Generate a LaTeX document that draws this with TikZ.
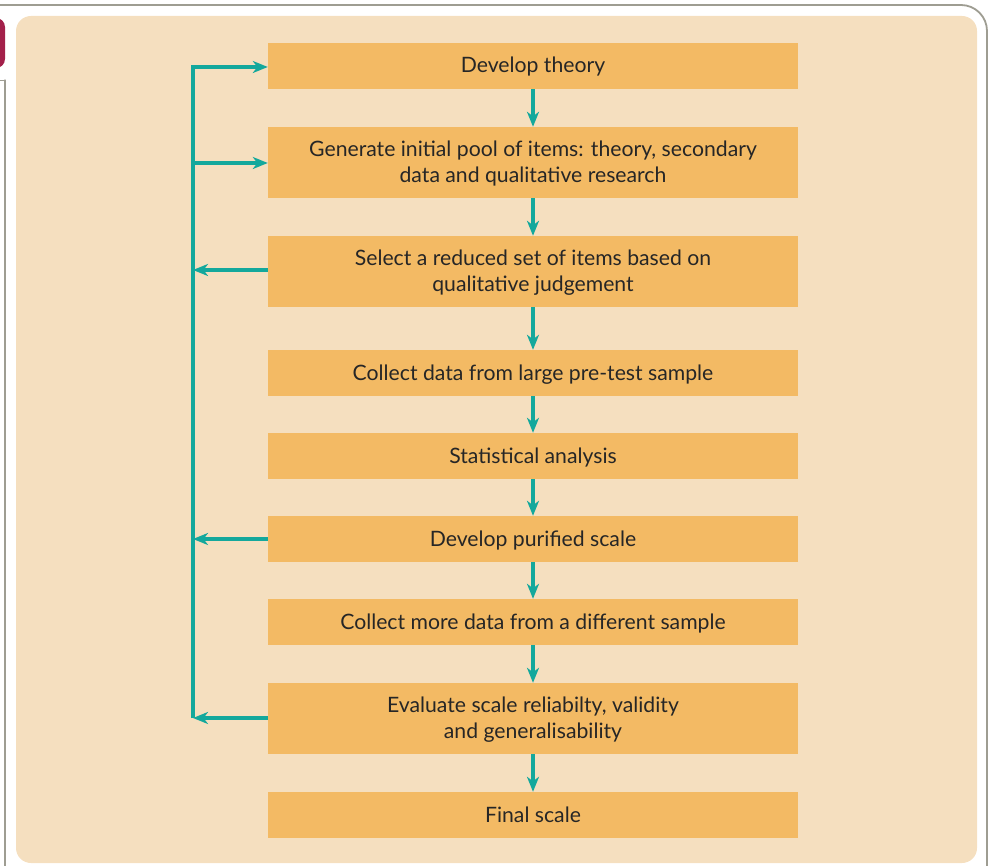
\documentclass[tikz,border=0pt]{standalone}
\usepackage{fontspec}
\setmainfont{Lato}
\usetikzlibrary{arrows.meta}
\definecolor{panel}{HTML}{F5DFBF}
\definecolor{boxfill}{HTML}{F3BA64}
\definecolor{teal}{HTML}{14A89C}
\definecolor{framegray}{HTML}{9E9D92}
\definecolor{maroon}{HTML}{A3204A}
\begin{document}
\begin{tikzpicture}[x=1pt,y=-1pt,
  stepbox/.style={fill=boxfill, draw=none, minimum width=530pt, align=center, inner sep=0pt,
    font=\fontsize{21.2}{25.5}\selectfont, text=black!85},
  one/.style={stepbox, minimum height=46pt, text height=14pt, text depth=0pt},
  two/.style={stepbox, minimum height=71pt, text height=39.5pt, text depth=0pt},
  flow/.style={draw=teal, line width=3.2pt, -{Stealth[length=15pt,width=12pt,inset=4.5pt]}},
  fb/.style={draw=teal, line width=3.2pt}
]
\useasboundingbox (0,0) rectangle (990,866);
\begin{scope}
\clip (0,0) rectangle (990,866);
% outer frame
\draw[framegray, line width=1.8pt, rounded corners=26pt] (-20,5) -- (987,5) -- (987,900);
\draw[framegray, line width=1.8pt] (0,80.5) -- (5,80.5);
\draw[framegray, line width=1.8pt, rounded corners=22pt] (5,79.6) -- (5,890) -- (60,890);
\fill[maroon, rounded corners=9pt] (-30,18) rectangle (5,68);
% panel
\fill[panel, rounded corners=15pt] (16,16) rectangle (977,863);
\end{scope}
% boxes
\node[one] (b1) at (533,66) {Develop theory};
\node[two] (b2) at (533,162.5) {Generate initial pool of items: theory, secondary\\data and qualitative research};
\node[two] (b3) at (533,271.5) {Select a reduced set of items based on\\qualitative judgement};
\node[one] (b4) at (533,373) {Collect data from large pre-test sample};
\node[one] (b5) at (533,456) {Statistical analysis};
\node[one] (b6) at (533,539) {Develop purified scale};
\node[one] (b7) at (533,622) {Collect more data from a different sample};
\node[two] (b8) at (533,718.5) {Evaluate scale reliabilty, validity\\and generalisability};
\node[one] (b9) at (533,815) {Final scale};
% downward arrows
\foreach \a/\b in {b1/b2,b2/b3,b3/b4,b4/b5,b5/b6,b6/b7,b7/b8,b8/b9}
  \draw[flow] (\a.south) -- (\b.north);
% feedback loop
\coordinate (top) at (193,67);
\coordinate (bot) at (193,718);
\draw[flow, line join=miter] (bot) -- (top) -- (b1.west |- top);
\draw[flow] (193,163) -- (b2.west |- 0,163);
\draw[flow] (b3.west |- 0,270) -- (193,270);
\draw[flow] (b6.west) -- (193,539);
\draw[flow] (b8.west |- bot) -- (bot);
\end{tikzpicture}
\end{document}
